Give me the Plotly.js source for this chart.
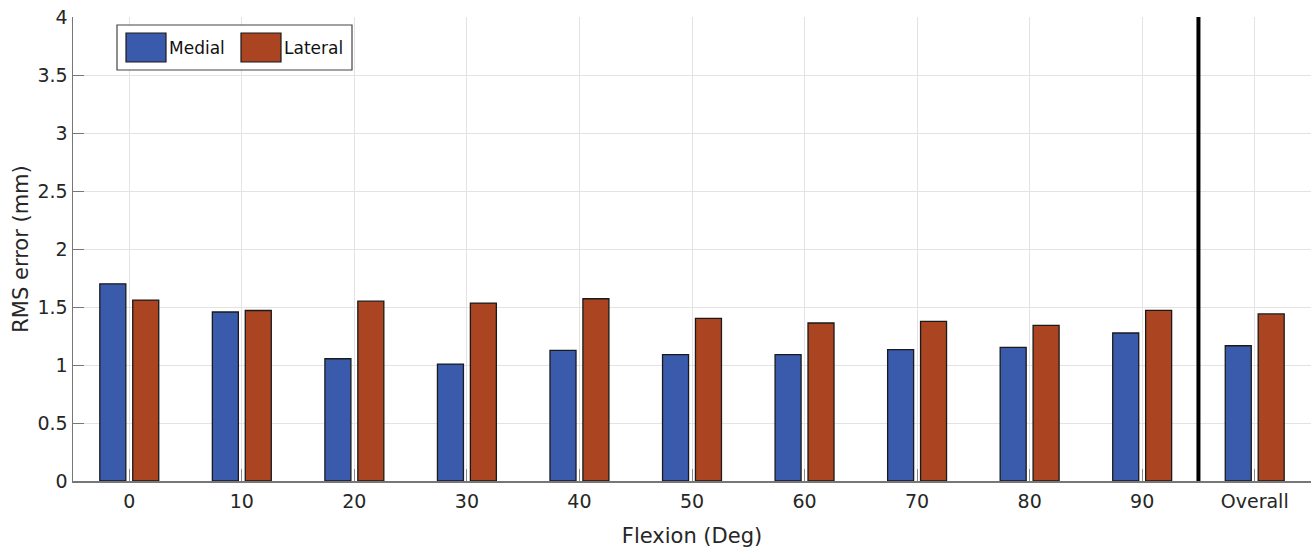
<!DOCTYPE html>
<html>
<head>
<meta charset="utf-8">
<script src="https://cdn.plot.ly/plotly-3.0.1.min.js"></script>
<style>html,body{margin:0;padding:0;background:#fff;}#chart{width:1314px;height:548px;}</style>
</head>
<body>
<div id="chart"></div>
<script>
const categories = ["0","10","20","30","40","50","60","70","80","90","Overall"];
const medial  = [1.70, 1.457, 1.054, 1.008, 1.126, 1.089, 1.089, 1.132, 1.152, 1.276, 1.166];
const lateral = [1.56, 1.47, 1.55, 1.534, 1.571, 1.402, 1.362, 1.376, 1.341, 1.471, 1.44];
const yTicks = [0, 0.5, 1, 1.5, 2, 2.5, 3, 3.5, 4];
const yTickText = ["0","0.5","1","1.5","2","2.5","3","3.5","4"];
const seriesNames = ["Medial", "Lateral"];
const seriesColors = ["#3A5BAC", "#AB4521"];

const font = "DejaVu Sans, Liberation Sans, Arial, sans-serif";

const traces = [
  {type:"bar", name:seriesNames[0], x:categories, y:medial,
   marker:{color:seriesColors[0], line:{color:"#1a1a1a", width:1.3}}, showlegend:false},
  {type:"bar", name:seriesNames[1], x:categories, y:lateral,
   marker:{color:seriesColors[1], line:{color:"#1a1a1a", width:1.3}}, showlegend:false}
];

const layout = {
  width:1314, height:548,
  margin:{l:73, r:3, t:17, b:67},
  paper_bgcolor:"#fff", plot_bgcolor:"#fff",
  barmode:"group", bargap:0.415, bargroupgap:0.21,
  font:{family:font, color:"#262626"},
  showlegend:false,
  xaxis:{
    type:"category", range:[-0.5, 10.5],
    showgrid:true, gridcolor:"#e3e3e3", gridwidth:1,
    showline:true, linecolor:"#777", linewidth:1.5,
    ticks:"inside", ticklen:12, tickcolor:"#888", tickwidth:1,
    ticklabelstandoff:3,
    tickfont:{size:19, family:font, color:"#262626"},
    title:{text:"Flexion (Deg)", font:{size:21, family:font, color:"#262626"}, standoff:17},
    zeroline:false
  },
  yaxis:{
    range:[0,4], tickvals:yTicks, ticktext:yTickText,
    showgrid:true, gridcolor:"#e3e3e3", gridwidth:1,
    showline:true, linecolor:"#777", linewidth:1.5,
    ticks:"inside", ticklen:11, tickcolor:"#777",
    tickfont:{size:19, family:font, color:"#262626"},
    title:{text:"RMS error (mm)", font:{size:21, family:font, color:"#262626"}, standoff:3},
    zeroline:false
  },
  shapes:[
    {type:"line", xref:"x", yref:"y", x0:9.5, x1:9.5, y0:0, y1:4,
     line:{color:"#000", width:4}},
    // legend box
    {type:"rect", xref:"paper", yref:"paper", x0:(117-73)/1238, x1:(352-73)/1238,
     y0:(481-70)/464, y1:(481-25)/464, line:{color:"#444", width:1.2}, fillcolor:"#fff"},
    {type:"rect", xref:"paper", yref:"paper", x0:(126-73)/1238, x1:(166-73)/1238,
     y0:(481-62)/464, y1:(481-33)/464, line:{color:"#1a1a1a", width:1.2}, fillcolor:seriesColors[0]},
    {type:"rect", xref:"paper", yref:"paper", x0:(241-73)/1238, x1:(281-73)/1238,
     y0:(481-62)/464, y1:(481-33)/464, line:{color:"#1a1a1a", width:1.2}, fillcolor:seriesColors[1]}
  ],
  annotations:[
    {xref:"paper", yref:"paper", x:(167-73)/1238, y:(481-48)/464, xanchor:"left", yanchor:"middle",
     text:seriesNames[0], showarrow:false, font:{size:17, family:font, color:"#111"}},
    {xref:"paper", yref:"paper", x:(282-73)/1238, y:(481-48)/464, xanchor:"left", yanchor:"middle",
     text:seriesNames[1], showarrow:false, font:{size:17, family:font, color:"#111"}}
  ]
};

Plotly.newPlot("chart", traces, layout, {staticPlot:true, displayModeBar:false});
</script>
</body>
</html>
